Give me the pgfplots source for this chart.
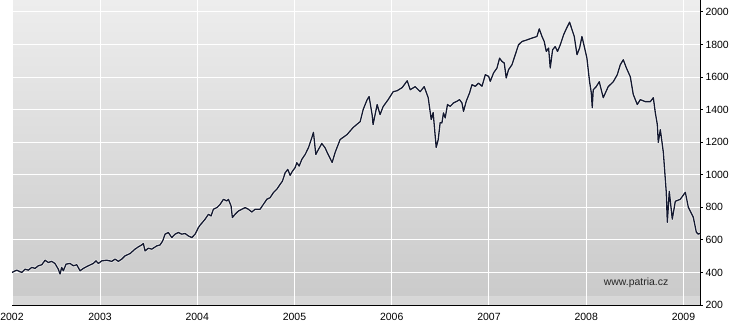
\documentclass[border=0pt]{standalone}
\usepackage{fontspec}
\setmainfont{Liberation Sans}
\usepackage{pgfplots}
\usepackage{pgfplotstable}
\pgfplotsset{compat=1.18}
\definecolor{linec}{HTML}{141930}
\pgfplotstableread{
year value
2002.095 400
2002.143 414
2002.195 400
2002.229 420
2002.263 414
2002.298 431
2002.332 425
2002.366 441
2002.401 447
2002.435 475
2002.468 461
2002.503 468
2002.537 455
2002.571 420
2002.589 390
2002.606 431
2002.623 410
2002.651 451
2002.692 455
2002.726 441
2002.761 447
2002.795 410
2002.829 425
2002.880 441
2002.931 455
2002.959 471
2002.983 455
2003.018 471
2003.069 475
2003.121 468
2003.155 482
2003.189 468
2003.224 482
2003.258 502
2003.309 516
2003.360 543
2003.394 557
2003.429 569
2003.446 578
2003.463 532
2003.497 549
2003.532 543
2003.584 563
2003.618 569
2003.645 594
2003.669 635
2003.703 645
2003.738 614
2003.772 635
2003.806 645
2003.841 635
2003.875 639
2003.909 624
2003.944 614
2003.978 635
2004.012 676
2004.029 690
2004.081 727
2004.115 757
2004.142 747
2004.166 788
2004.201 798
2004.235 818
2004.269 849
2004.304 839
2004.320 849
2004.348 808
2004.361 737
2004.389 757
2004.423 777
2004.458 788
2004.492 798
2004.526 788
2004.561 771
2004.595 788
2004.646 788
2004.680 818
2004.715 849
2004.749 859
2004.783 890
2004.817 910
2004.852 941
2004.876 961
2004.904 1012
2004.931 1033
2004.955 996
2004.979 1022
2005.006 1043
2005.024 1074
2005.048 1053
2005.075 1094
2005.109 1124
2005.143 1165
2005.178 1227
2005.195 1261
2005.219 1124
2005.246 1155
2005.281 1192
2005.315 1165
2005.336 1137
2005.387 1075
2005.418 1137
2005.469 1216
2005.541 1247
2005.603 1290
2005.675 1326
2005.706 1400
2005.747 1461
2005.767 1480
2005.798 1369
2005.808 1308
2005.850 1431
2005.880 1369
2005.911 1418
2005.963 1461
2006.015 1510
2006.056 1516
2006.107 1535
2006.159 1577
2006.190 1522
2006.241 1541
2006.292 1510
2006.334 1541
2006.375 1473
2006.406 1339
2006.426 1382
2006.457 1167
2006.478 1216
2006.498 1320
2006.516 1318
2006.532 1380
2006.550 1349
2006.573 1431
2006.601 1420
2006.635 1441
2006.670 1451
2006.697 1461
2006.722 1441
2006.738 1389
2006.766 1451
2006.800 1502
2006.825 1553
2006.859 1543
2006.893 1563
2006.928 1543
2006.962 1614
2006.997 1604
2007.013 1573
2007.047 1625
2007.082 1655
2007.109 1716
2007.133 1696
2007.157 1686
2007.177 1594
2007.201 1645
2007.236 1675
2007.270 1737
2007.304 1798
2007.339 1818
2007.390 1828
2007.442 1839
2007.493 1849
2007.517 1896
2007.545 1849
2007.568 1818
2007.589 1757
2007.613 1778
2007.630 1655
2007.654 1767
2007.681 1787
2007.705 1757
2007.733 1798
2007.767 1859
2007.795 1896
2007.829 1937
2007.854 1890
2007.877 1849
2007.905 1737
2007.932 1778
2007.956 1849
2007.980 1787
2008.007 1716
2008.034 1573
2008.052 1504
2008.062 1412
2008.072 1522
2008.103 1541
2008.134 1571
2008.175 1473
2008.226 1541
2008.278 1571
2008.319 1614
2008.350 1675
2008.381 1706
2008.412 1657
2008.453 1602
2008.484 1492
2008.525 1431
2008.556 1461
2008.607 1449
2008.659 1449
2008.690 1473
2008.710 1382
2008.731 1308
2008.741 1198
2008.762 1277
2008.793 1137
2008.823 892
2008.834 708
2008.854 898
2008.885 727
2008.916 837
2008.967 849
2009.019 892
2009.050 800
2009.101 739
2009.132 647
2009.152 635
2009.170 640
}\datatable
\begin{document}
\begin{tikzpicture}
\begin{axis}[
  name=ax,
  scale only axis,
  width=688bp, height=305bp,
  xmin=2002.095, xmax=2009.17,
  ymin=200, ymax=2073,
  axis x line=bottom, axis y line=right,
  axis line style={-, black, line width=1bp},
  axis background/.style={top color=black!7, bottom color=black!21},
  xtick={2002.095,2003,2004,2005,2006,2007,2008,2009},
  xticklabels={2002,2003,2004,2005,2006,2007,2008,2009},
  ytick={200,400,...,2000},
  grid=major,
  major grid style={white, line width=1bp},
  x tick style={draw=none},
  y tick style={black, line width=0.8bp},
  tick align=outside,
  major tick length=3bp,
  /pgf/number format/assume math mode=true,
  /pgf/number format/1000 sep={},
  tick label style={font=\fontsize{10.5}{12}\selectfont, text=black},
  xticklabel style={anchor=north, yshift=-2bp},
  yticklabel style={anchor=west, xshift=-1bp},
  clip=true,
]
\fill[white, opacity=0.25] (rel axis cs:0,0) rectangle (rel axis cs:1,0.028);
\addplot[white, opacity=0.55, line width=2.8bp, line join=round] table[x=year, y=value] {\datatable};
\addplot[linec, line width=1.3bp, line join=round] table[x=year, y=value] {\datatable};
\node[font=\fontsize{10.5}{12}\selectfont, text=black!85] at (rel axis cs:0.907,0.072) {www.patria.cz};
\end{axis}
\pgfresetboundingbox
\path[use as bounding box] ([shift={(-12bp,-25bp)}]ax.south west) rectangle ([shift={(30bp,0bp)}]ax.north east);
\end{tikzpicture}
\end{document}
